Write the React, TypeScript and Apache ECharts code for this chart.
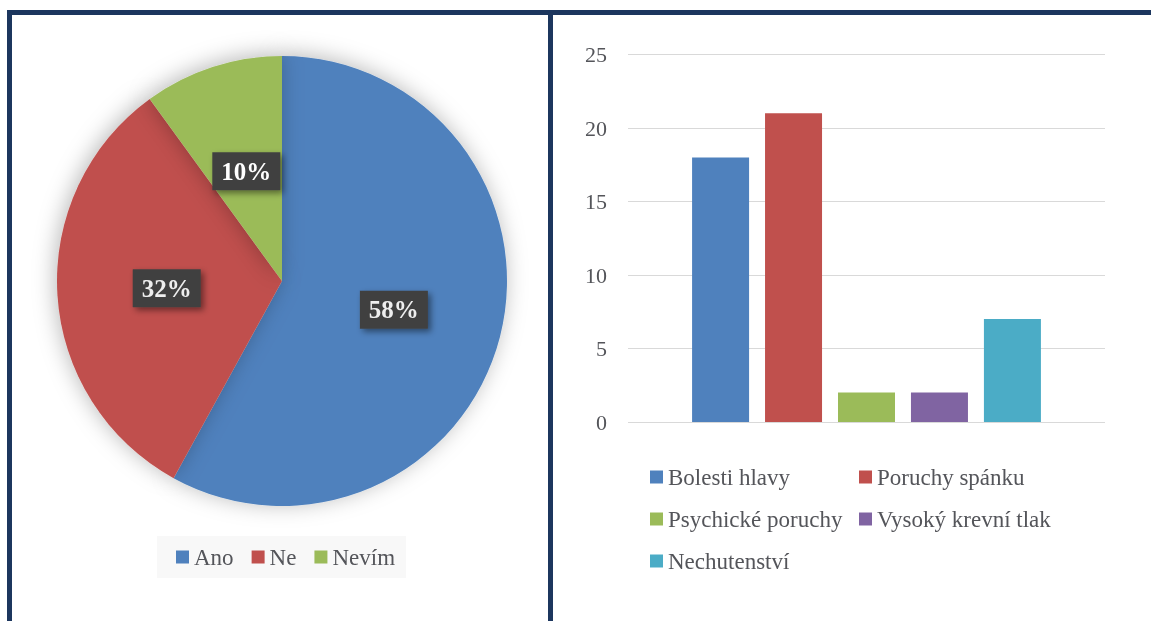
import React, { useEffect, useRef } from "react";
import * as echarts from "echarts";

const pieCategories = ["Ano", "Ne", "Nevím"];
const pieValues = [58, 32, 10];
const pieColors = ["#4f81bd", "#c0504d", "#9bbb59"];

const barCategories = [
  "Bolesti hlavy",
  "Poruchy spánku",
  "Psychické poruchy",
  "Vysoký krevní tlak",
  "Nechutenství",
];
const barValues = [18, 21, 2, 2, 7];
const barColors = ["#4f81bd", "#c0504d", "#9bbb59", "#8064a2", "#4bacc6"];
const yMin = 0;
const yMax = 25;
const yInterval = 5;

const FONT = "serif";
const NAVY = "#1c365e";

export default function App() {
  const ref = useRef<HTMLDivElement>(null);
  useEffect(() => {
    if (!ref.current) return;
    const chart = echarts.init(ref.current, undefined, { renderer: "svg" });
    chart.setOption({
      animation: false,
      graphic: [
        { type: "rect", z: 0, shape: { x: 7, y: 10, width: 1144, height: 5 }, style: { fill: NAVY } },
        { type: "rect", z: 0, shape: { x: 7, y: 10, width: 5, height: 611 }, style: { fill: NAVY } },
        { type: "rect", z: 0, shape: { x: 548, y: 10, width: 5, height: 611 }, style: { fill: NAVY } },
        { type: "rect", z: 0, shape: { x: 157, y: 536, width: 249, height: 42 }, style: { fill: "#f8f8f8" } },
      ],
      grid: { left: 628, right: 46, top: 54.5, bottom: 199 },
      xAxis: {
        type: "category",
        data: [""],
        axisLine: { show: false },
        axisTick: { show: false },
        axisLabel: { show: false },
      },
      yAxis: {
        type: "value",
        min: yMin,
        max: yMax,
        interval: yInterval,
        axisLine: { show: false },
        axisTick: { show: false },
        axisLabel: { fontFamily: FONT, fontSize: 22, margin: 21 },
        splitLine: { lineStyle: { color: "#d9d9d9", width: 1 } },
      },
      legend: [
        {
          left: 176,
          top: 545,
          orient: "horizontal",
          data: pieCategories,
          padding: 0,
          itemWidth: 13,
          itemHeight: 13,
          itemGap: 18,
          icon: "rect",
          textStyle: { fontFamily: FONT, fontSize: 23, lineHeight: 24 },
        },
        {
          left: 650,
          top: 465,
          orient: "vertical",
          data: [barCategories[0], barCategories[2], barCategories[4]],
          padding: 0,
          itemWidth: 13,
          itemHeight: 13,
          itemGap: 18,
          icon: "rect",
          textStyle: { fontFamily: FONT, fontSize: 23, lineHeight: 24 },
        },
        {
          left: 859,
          top: 465,
          orient: "vertical",
          data: [barCategories[1], barCategories[3]],
          padding: 0,
          itemWidth: 13,
          itemHeight: 13,
          itemGap: 18,
          icon: "rect",
          textStyle: { fontFamily: FONT, fontSize: 23, lineHeight: 24 },
        },
      ],
      series: [
        {
          type: "pie",
          center: [282, 281],
          radius: 225,
          startAngle: 90,
          clockwise: true,
          data: pieCategories.map((name, i) => ({
            name,
            value: pieValues[i],
            itemStyle: { color: pieColors[i] },
            ...(i === 2 ? { label: { color: "#ffffff", fontFamily: FONT } } : {}),
          })),
          itemStyle: {
            borderWidth: 0,
            shadowBlur: 22,
            shadowColor: "rgba(0,0,0,0.28)",
            shadowOffsetX: -2,
            shadowOffsetY: -2,
          },
          label: {
            show: true,
            position: "inside",
            formatter: "{c}%",
            fontFamily: FONT,
            fontSize: 25,
            fontWeight: "bold",
            textBorderWidth: 0,
            backgroundColor: "#404040",
            padding: [7, 9, 6, 9],
            shadowBlur: 6,
            shadowColor: "rgba(0,0,0,0.45)",
            shadowOffsetX: 3,
            shadowOffsetY: 3,
          },
          labelLine: { show: false },
          emphasis: { disabled: true },
        },
        ...barCategories.map((name, i) => ({
          type: "bar",
          name,
          data: [barValues[i]],
          barWidth: 57,
          barGap: "28%",
          itemStyle: { color: barColors[i] },
          emphasis: { disabled: true },
        })),
      ],
    });
    return () => chart.dispose();
  }, []);
  return (
    <div
      ref={ref}
      style={{ position: "fixed", left: 0, top: 0, width: 1151, height: 621 }}
    />
  );
}
